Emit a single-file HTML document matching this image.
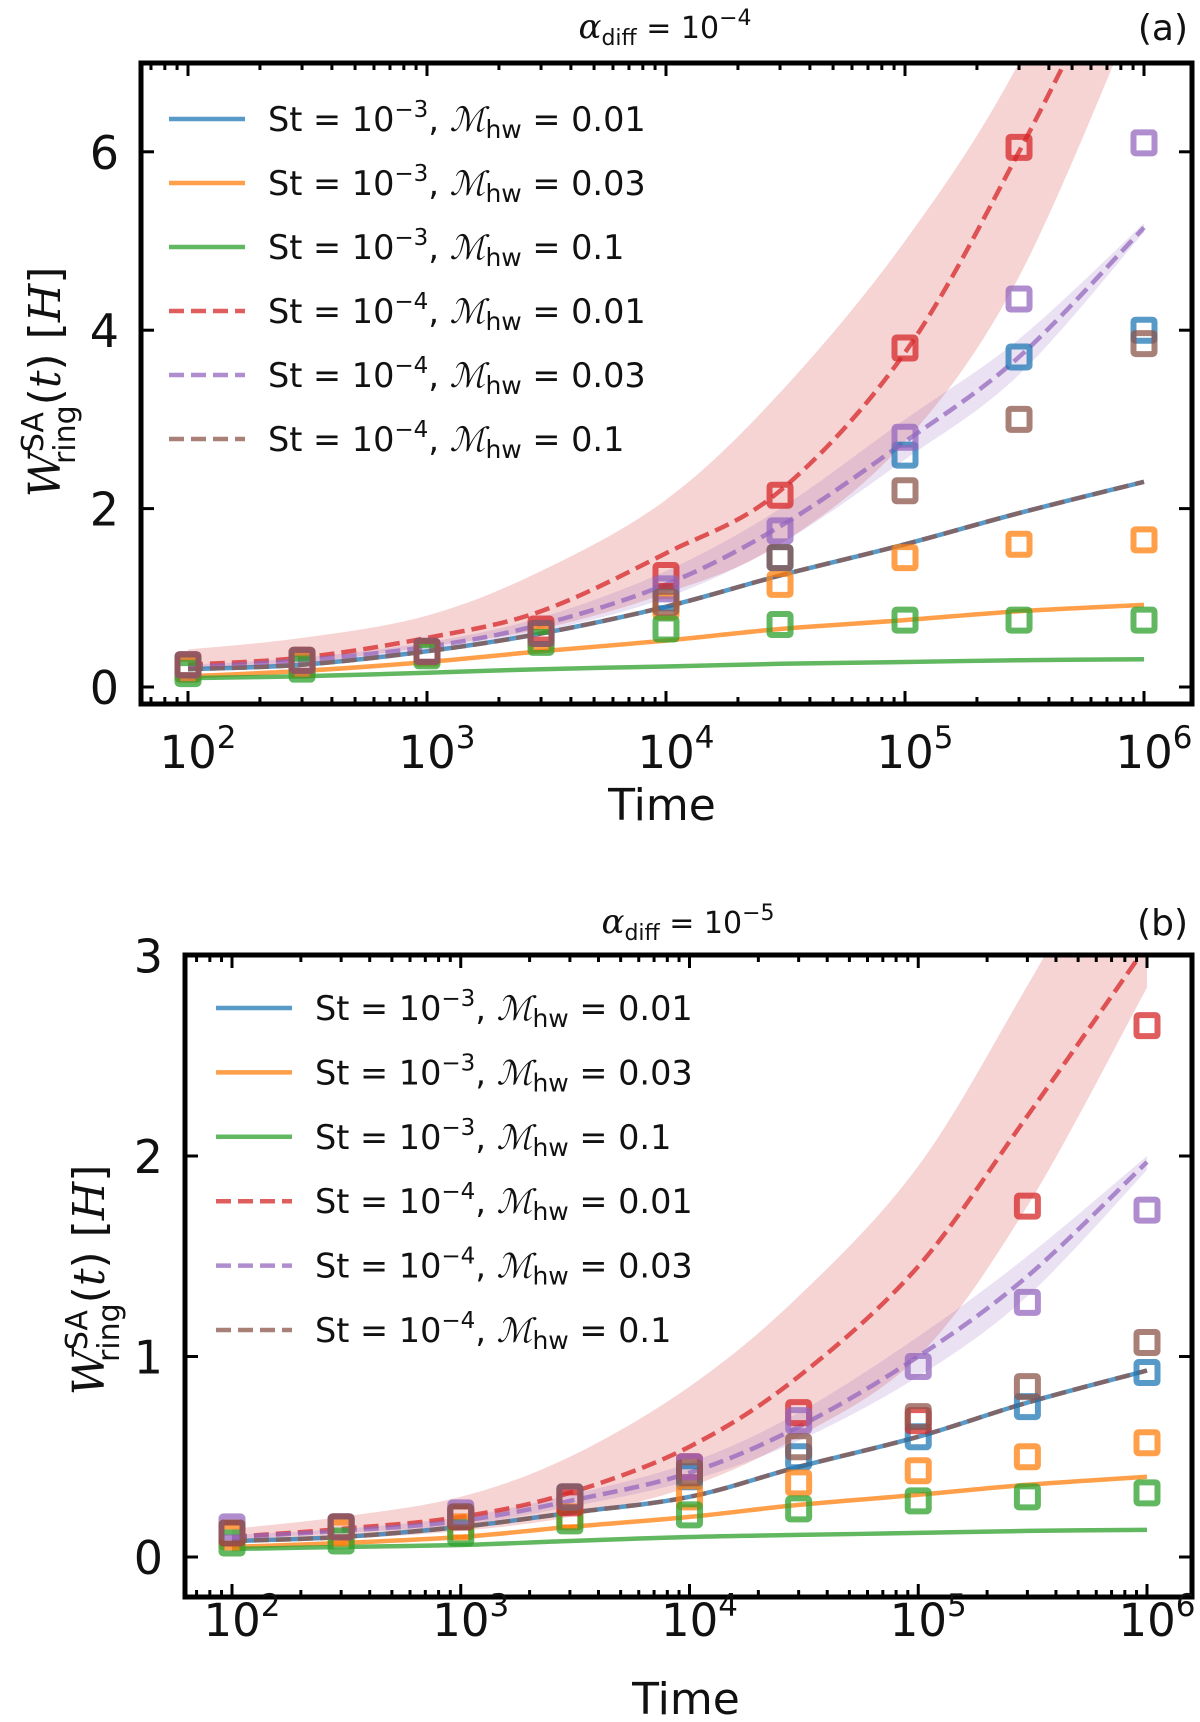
<!DOCTYPE html>
<html><head><meta charset="utf-8">
<style>
html,body{margin:0;padding:0;background:#fff;}
svg{display:block;font-family:"DejaVu Sans","Liberation Sans",sans-serif;}
</style></head>
<body>
<svg id="fig" width="1200" height="1722" viewBox="0 0 1200 1722" xmlns="http://www.w3.org/2000/svg"></svg>
<script>
// ---- data ----
const times = [1e2, 3e2, 1e3, 3e3, 1e4, 3e4, 1e5, 3e5, 1e6];
const xTickExps = [2, 3, 4, 5, 6];
const yTicksA = [0, 2, 4, 6];
const yTicksB = [0, 1, 2, 3];
const seriesNames = ["st3-m001", "st3-m003", "st3-m01", "st4-m001", "st4-m003", "st4-m01"];
const seriesColors = ["#1f77b4", "#ff7f0e", "#2ca02c", "#d62728", "#9467bd", "#8c564b"];
const legendSt = ["3", "3", "3", "4", "4", "4"];
const legendM = ["0.01", "0.03", "0.1", "0.01", "0.03", "0.1"];

// Panel (a) model curves
const lineA_blue = [0.2, 0.25, 0.4, 0.6, 0.9, 1.25, 1.6, 1.95, 2.3];
const lineA_orange = [0.12, 0.18, 0.28, 0.4, 0.52, 0.65, 0.75, 0.85, 0.92];
const lineA_green = [0.1, 0.12, 0.16, 0.2, 0.23, 0.26, 0.28, 0.3, 0.31];
const lineA_red = [0.25, 0.33, 0.55, 0.85, 1.5, 2.2, 3.75, 6.0, 8.8];
const lineA_purple = [0.22, 0.3, 0.45, 0.7, 1.15, 1.8, 2.75, 3.7, 5.15];
const lineA_brown = [0.2, 0.25, 0.4, 0.6, 0.9, 1.25, 1.6, 1.95, 2.3];
const bandA_redLow = [0.2, 0.27, 0.45, 0.65, 1.05, 1.6, 2.75, 4.6, 7.8];
const bandA_redHigh = [0.42, 0.55, 0.8, 1.3, 2.1, 3.3, 5.0, 7.0, 10.0];
const bandA_purpleLow = [0.2, 0.27, 0.4, 0.62, 1.0, 1.6, 2.55, 3.5, 5.1];
const bandA_purpleHigh = [0.25, 0.33, 0.5, 0.78, 1.3, 2.0, 3.0, 3.9, 5.2];
// Panel (a) simulation points
const ptsA_blue = [0.2, 0.25, 0.4, 0.6, 1.0, 1.45, 2.6, 3.7, 4.0];
const ptsA_orange = [0.2, 0.25, 0.38, 0.55, 0.9, 1.15, 1.45, 1.6, 1.65];
const ptsA_green = [0.15, 0.2, 0.35, 0.5, 0.65, 0.7, 0.75, 0.75, 0.75];
const ptsA_red = [0.25, 0.3, 0.4, 0.65, 1.25, 2.15, 3.8, 6.05, null];
const ptsA_purple = [0.25, 0.3, 0.4, 0.6, 1.1, 1.75, 2.8, 4.35, 6.1];
const ptsA_brown = [0.25, 0.3, 0.4, 0.6, 0.95, 1.45, 2.2, 3.0, 3.85];

// Panel (b) model curves
const lineB_blue = [0.08, 0.1, 0.15, 0.22, 0.3, 0.45, 0.6, 0.77, 0.93];
const lineB_orange = [0.05, 0.07, 0.1, 0.15, 0.2, 0.26, 0.31, 0.36, 0.4];
const lineB_green = [0.04, 0.05, 0.06, 0.08, 0.1, 0.11, 0.12, 0.13, 0.135];
const lineB_red = [0.1, 0.14, 0.2, 0.32, 0.55, 0.9, 1.45, 2.2, 3.05];
const lineB_purple = [0.1, 0.13, 0.18, 0.28, 0.42, 0.65, 1.0, 1.4, 1.97];
const lineB_brown = [0.08, 0.1, 0.15, 0.22, 0.3, 0.45, 0.6, 0.77, 0.93];
const bandB_redLow = [0.07, 0.09, 0.13, 0.2, 0.35, 0.6, 1.0, 1.75, 2.84];
const bandB_redHigh = [0.14, 0.2, 0.3, 0.5, 0.85, 1.3, 1.95, 2.85, 3.9];
const bandB_purpleLow = [0.09, 0.12, 0.16, 0.25, 0.38, 0.58, 0.9, 1.3, 1.93];
const bandB_purpleHigh = [0.11, 0.14, 0.2, 0.31, 0.47, 0.72, 1.1, 1.5, 2.0];
// Panel (b) simulation points
const ptsB_blue = [0.12, 0.15, 0.2, 0.3, 0.4, 0.5, 0.6, 0.75, 0.92];
const ptsB_orange = [0.1, 0.12, 0.15, 0.2, 0.3, 0.37, 0.43, 0.5, 0.57];
const ptsB_green = [0.07, 0.08, 0.12, 0.18, 0.21, 0.24, 0.28, 0.3, 0.32];
const ptsB_red = [0.12, 0.15, 0.2, 0.27, 0.45, 0.72, 0.68, 1.75, 2.65];
const ptsB_purple = [0.15, 0.15, 0.22, 0.3, 0.45, 0.68, 0.95, 1.27, 1.73];
const ptsB_brown = [0.12, 0.15, 0.2, 0.3, 0.42, 0.55, 0.7, 0.85, 1.07];

const NS = "http://www.w3.org/2000/svg";
const svg = document.getElementById('fig');
function mk(tag, attrs, parent) {
  const e = document.createElementNS(NS, tag);
  for (const k in attrs) e.setAttribute(k, attrs[k]);
  (parent || svg).appendChild(e);
  return e;
}
function smooth(P, start) {
  let d = (start ? 'M' : 'L') + P[0][0].toFixed(1) + ',' + P[0][1].toFixed(1);
  for (let i = 0; i < P.length - 1; i++) {
    const p0 = P[i - 1] || P[i], p1 = P[i], p2 = P[i + 1], p3 = P[i + 2] || P[i + 1];
    const c1 = [p1[0] + (p2[0] - p0[0]) / 6, p1[1] + (p2[1] - p0[1]) / 6];
    const c2 = [p2[0] - (p3[0] - p1[0]) / 6, p2[1] - (p3[1] - p1[1]) / 6];
    d += 'C' + c1[0].toFixed(1) + ',' + c1[1].toFixed(1) + ' ' + c2[0].toFixed(1) + ',' + c2[1].toFixed(1) + ' ' + p2[0].toFixed(1) + ',' + p2[1].toFixed(1);
  }
  return d;
}

function panel(cfg) {
  const g = mk('g', {});
  
  
  const xs = t => cfg.x0 + (Math.log10(t) - 2) * cfg.pxDec;
  const ys = v => cfg.y0 - v * cfg.pxUnit;
  const clipId = 'clip-' + cfg.name;
  const defs = mk('defs', {}, g);
  const cp = mk('clipPath', {id: clipId}, defs);
  mk('rect', {x: cfg.L, y: cfg.T, width: cfg.R - cfg.L, height: cfg.B - cfg.T}, cp);
  const plot = mk('g', {'clip-path': 'url(#' + clipId + ')'}, g);
  
  

  cfg.bands.forEach(b => {
    const hi = times.map((t, j) => [xs(t), ys(b.hi[j])]);
    const lo = times.map((t, j) => [xs(t), ys(b.lo[j])]).reverse();
    const p = mk('path', {d: smooth(hi, true) + smooth(lo, false) + 'Z', fill: b.color, 'fill-opacity': 0.2, stroke: 'none'}, plot);
    
    
  });
  cfg.lines.forEach((vals, i) => {
    const P = times.map((t, j) => [xs(t), ys(vals[j])]);
    const attrs = {d: smooth(P, true), fill: 'none', stroke: seriesColors[i], 'stroke-width': 4.5, 'stroke-opacity': 0.75, 'stroke-linejoin': 'round'};
    if (i >= 3) attrs['stroke-dasharray'] = '15,7';
    const l = mk('path', attrs, plot);
    
    
  });
  cfg.points.forEach((vals, i) => {
    vals.forEach((v, j) => {
      if (v === null) return;
      const s = 21;
      const r = mk('rect', {x: xs(times[j]) - s / 2, y: ys(v) - s / 2, width: s, height: s, fill: 'none', stroke: seriesColors[i], 'stroke-width': 6, 'stroke-opacity': 0.75, rx: 2}, plot);
      
      
    });
  });

  const fr = mk('rect', {x: cfg.L, y: cfg.T, width: cfg.R - cfg.L, height: cfg.B - cfg.T, fill: 'none', stroke: '#000', 'stroke-width': 5}, g);
  
  

  const xt = mk('g', {stroke: '#000', 'stroke-width': 3}, g);
  
  
  for (let e = 1; e <= 6; e++) {
    for (let m = 1; m <= 9; m++) {
      const t = m * Math.pow(10, e);
      const x = xs(t);
      if (x < cfg.L + 2 || x > cfg.R - 2) continue;
      const len = m === 1 ? 13 : 7;
      mk('line', {x1: x, x2: x, y1: cfg.B, y2: cfg.B - len}, xt);
      mk('line', {x1: x, x2: x, y1: cfg.T, y2: cfg.T + len}, xt);
    }
  }
  xTickExps.forEach(e => {
    const x = xs(Math.pow(10, e));
    const tx = mk('text', {x: x + 10, y: cfg.xLabY, 'font-size': 45, 'text-anchor': 'middle', fill: '#111'}, g);
    
    
    tx.innerHTML = '10<tspan dy="-20" font-size="31">' + e + '</tspan>';
  });
  cfg.yTicks.forEach(v => {
    const y = ys(v);
    mk('line', {x1: cfg.L, x2: cfg.L + 13, y1: y, y2: y}, xt);
    mk('line', {x1: cfg.R, x2: cfg.R - 13, y1: y, y2: y}, xt);
    const tx = mk('text', {x: cfg.L - 22, y: y + 17, 'font-size': 46, 'text-anchor': 'end', fill: '#111'}, g);
    
    
    tx.textContent = v;
  });
  const xl = mk('text', {x: cfg.xTitleX, y: cfg.xTitleY, 'font-size': 44, 'text-anchor': 'middle', fill: '#111'}, g);
  
  
  xl.textContent = 'Time';
  const yl = mk('text', {x: 0, y: 0, 'font-size': 44, 'text-anchor': 'middle', fill: '#111', transform: 'translate(' + cfg.yTitleX + ',' + cfg.yTitleY + ') rotate(-90)'}, g);
  
  
  yl.innerHTML = '<tspan font-family="DejaVu Serif, serif" font-style="italic">W</tspan><tspan dy="-17" font-size="30">SA</tspan><tspan dx="-52" dy="32" font-size="30">ring</tspan><tspan dy="-15">(</tspan><tspan font-style="italic" font-family="DejaVu Serif, serif">t</tspan>) [<tspan font-style="italic" font-family="DejaVu Serif, serif">H</tspan>]';
  const tt = mk('text', {x: cfg.titleX, y: cfg.titleY, 'font-size': 30, 'text-anchor': 'middle', fill: '#111'}, g);
  
  
  tt.innerHTML = '<tspan font-family="DejaVu Serif, serif" font-style="italic" font-size="34">α</tspan><tspan dy="7" font-size="22">diff</tspan><tspan dy="-7"> = 10</tspan><tspan dy="-13" font-size="22">−' + cfg.alphaExp + '</tspan>';
  const tl = mk('text', {x: 1188, y: cfg.titleY + 2, 'font-size': 36, 'text-anchor': 'end', fill: '#111'}, g);
  
  
  tl.textContent = cfg.letter;
  const lg = mk('g', {}, g);
  
  
  for (let i = 0; i < 6; i++) {
    const y = cfg.legY + i * cfg.legDy;
    const e = mk('g', {}, lg);
    
    
    const a = {x1: cfg.legX, x2: cfg.legX + 76, y1: y, y2: y, stroke: seriesColors[i], 'stroke-width': 4.5, 'stroke-opacity': 0.75};
    if (i >= 3) a['stroke-dasharray'] = '15,7';
    mk('line', a, e);
    const t = mk('text', {x: cfg.legX + 99, y: y + 12, 'font-size': 33.5, fill: '#111'}, e);
    t.innerHTML = 'St = 10<tspan dy="-14" font-size="23">−' + legendSt[i] + '</tspan><tspan dy="14">, </tspan><tspan font-family="DejaVu Serif, serif" font-style="italic">ℳ</tspan><tspan dy="7" font-size="25">hw</tspan><tspan dy="-7"> = ' + legendM[i] + '</tspan>';
  }
}

panel({
  name: 'panel-a', L: 141, R: 1192, T: 63, B: 704,
  x0: 188, pxDec: 239, y0: 687, pxUnit: 89.2,
  yTicks: yTicksA, xLabY: 768, xTitleX: 662, xTitleY: 820,
  yTitleX: 60, yTitleY: 382, titleX: 665, titleY: 38, alphaExp: 4, letter: '(a)',
  legX: 169, legY: 119, legDy: 64,
  bands: [{lo: bandA_redLow, hi: bandA_redHigh, color: '#d62728', label: 'uncertainty-band-red'},
          {lo: bandA_purpleLow, hi: bandA_purpleHigh, color: '#9467bd', label: 'uncertainty-band-purple'}],
  lines: [lineA_blue, lineA_orange, lineA_green, lineA_red, lineA_purple, lineA_brown],
  points: [ptsA_blue, ptsA_orange, ptsA_green, ptsA_red, ptsA_purple, ptsA_brown]
});
panel({
  name: 'panel-b', L: 185, R: 1192, T: 955, B: 1597,
  x0: 232, pxDec: 228.75, y0: 1557, pxUnit: 200.5,
  yTicks: yTicksB, xLabY: 1636, xTitleX: 686, xTitleY: 1714,
  yTitleX: 104, yTitleY: 1280, titleX: 688, titleY: 933, alphaExp: 5, letter: '(b)',
  legX: 216, legY: 1008, legDy: 64.4,
  bands: [{lo: bandB_redLow, hi: bandB_redHigh, color: '#d62728', label: 'uncertainty-band-red'},
          {lo: bandB_purpleLow, hi: bandB_purpleHigh, color: '#9467bd', label: 'uncertainty-band-purple'}],
  lines: [lineB_blue, lineB_orange, lineB_green, lineB_red, lineB_purple, lineB_brown],
  points: [ptsB_blue, ptsB_orange, ptsB_green, ptsB_red, ptsB_purple, ptsB_brown]
});
</script>
</body></html>
